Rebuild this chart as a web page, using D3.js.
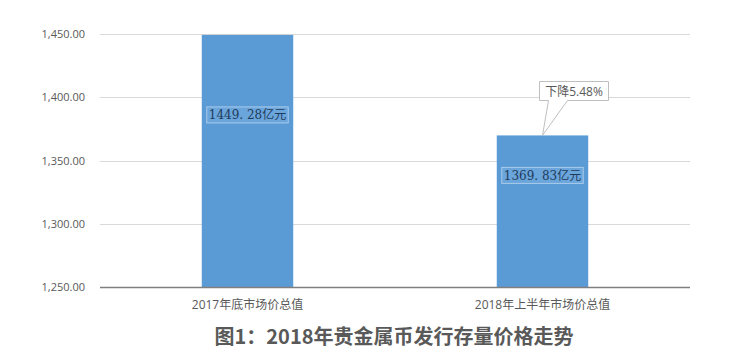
<!DOCTYPE html>
<html><head><meta charset="utf-8">
<script src="https://cdn.jsdelivr.net/npm/d3@7"></script>
<style>body{margin:0;background:#fff}</style>
</head><body>
<script>
const categories = ["2017年底市场价总值", "2018年上半年市场价总值"];
const values = [1449.28, 1369.83];
const valueLabels = ["1449. 28亿元", "1369. 83亿元"];
const yTicks = [1250, 1300, 1350, 1400, 1450];
const calloutText = "下降5.48%";
const title = "图1：2018年贵金属币发行存量价格走势";

const W = 734, H = 358;
const svg = d3.select("body").append("svg").attr("width", W).attr("height", H)
  .style("font-family", "'Open Sans','Noto Sans CJK SC',sans-serif");

const mLeft = 100, mRight = 690, mTop = 34, mBottom = 287;
const x = d3.scaleBand().domain(categories).range([mLeft, mRight]).paddingInner(0.69).paddingOuter(0.345);
const y = d3.scaleLinear().domain([1250, 1450]).range([mBottom, mTop]);

// gridlines
svg.append("g").selectAll("line").data(yTicks.slice(1)).join("line")
  .attr("x1", mLeft).attr("x2", mRight)
  .attr("y1", d => Math.round(y(d)) + 0.5).attr("y2", d => Math.round(y(d)) + 0.5)
  .attr("stroke", "#d9d9d9").attr("stroke-width", 1);

// y axis labels
const yAxis = d3.axisLeft(y).tickValues(yTicks).tickSize(0).tickPadding(0)
  .tickFormat(d3.format(",.2f"));
const gy = svg.append("g").attr("transform", `translate(${mLeft - 15},0)`).call(yAxis);
gy.select(".domain").remove();
gy.selectAll("text").attr("fill", "#595959").style("font-size", "11px")
  .style("font-family", "'Open Sans','Noto Sans CJK SC',sans-serif");

// bars
svg.append("g").selectAll("rect").data(values).join("rect")
  .attr("x", (d, i) => x(categories[i]))
  .attr("width", x.bandwidth())
  .attr("y", d => y(d))
  .attr("height", d => mBottom - y(d))
  .attr("fill", "#5b9bd5");

// baseline
svg.append("line").attr("x1", mLeft).attr("x2", mRight)
  .attr("y1", mBottom + 0.5).attr("y2", mBottom + 0.5)
  .attr("stroke", "#7f7f7f").attr("stroke-width", 1.3);

// x labels
const xAxis = d3.axisBottom(x).tickSize(0).tickPadding(0);
const gx = svg.append("g").attr("transform", `translate(0,${mBottom + 13})`).call(xAxis);
gx.select(".domain").remove();
gx.selectAll("text").attr("fill", "#595959").style("font-size", "12px")
  .style("font-family", "'Open Sans','Noto Sans CJK SC',sans-serif");

// value labels
const labelOffsets = [80, 40];
valueLabels.forEach((t, i) => {
  const cx = x(categories[i]) + x.bandwidth() / 2;
  const cy = y(values[i]) + labelOffsets[i];
  const g = svg.append("g");
  const txt = g.append("text").attr("x", cx).attr("y", cy + 4.5)
    .attr("text-anchor", "middle").attr("fill", "#1f3b5a")
    .style("font-size", "12px").style("font-family", "'DejaVu Serif','Liberation Serif','Noto Sans CJK SC',serif")
    .text(t);
  const bb = txt.node().getBBox();
  g.insert("rect", "text").attr("x", bb.x - 2).attr("y", cy - 8).attr("width", bb.width + 4).attr("height", 16)
    .attr("fill", "#6aa5dc").attr("stroke", "#a9cbeb").attr("stroke-width", 1);
});

// callout
{
  const i = 1;
  const px = x(categories[i]) + x.bandwidth() / 2, py = y(values[i]);
  const bx = 539.5, by = 81.5, bw = 69, bh = 19;
  const path = `M${bx},${by} H${bx + bw} V${by + bh} H${bx + 28} L${px},${py} L${bx + 9},${by + bh} H${bx} Z`;
  svg.append("path").attr("d", path).attr("fill", "#fff").attr("stroke", "#bfbfbf").attr("stroke-width", 1);
  svg.append("text").attr("x", bx + bw / 2).attr("y", by + 14).attr("text-anchor", "middle")
    .attr("fill", "#595959").style("font-size", "12px").text(calloutText);
}

// title
svg.append("text").attr("x", 394).attr("y", 344).attr("text-anchor", "middle")
  .attr("fill", "#595959").style("font-size", "20px").style("font-weight", "bold")
  .style("font-family", "'Noto Sans CJK SC',sans-serif").text(title);
</script>
</body></html>
